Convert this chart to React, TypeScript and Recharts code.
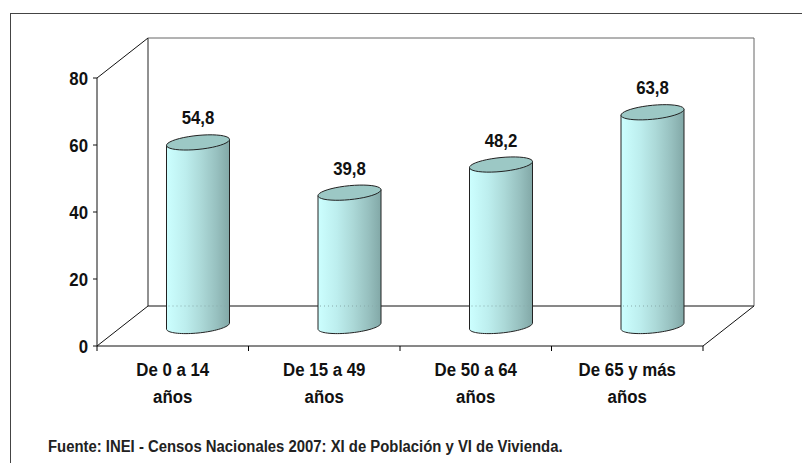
import React from "react";
import { BarChart, Bar, XAxis, YAxis, LabelList, Customized } from "recharts";

const line1 = ["De 0 a 14", "De 15 a 49", "De 50 a 64", "De 65 y más"];
const line2 = ["años", "años", "años", "años"];
const values = [54.8, 39.8, 48.2, 63.8];
const yTicks = [0, 20, 40, 60, 80];
const source = "Fuente: INEI - Censos Nacionales 2007: XI de Población y VI de Vivienda.";

const data = line1.map((l, i) => ({ name: l, sub: line2[i], value: values[i] }));

const W = 802;
const H = 463;
const M = { top: 78, right: 99, bottom: 117, left: 97 };
const PLOT_W = W - M.left - M.right;
const PLOT_H = H - M.top - M.bottom;
const AXIS_Y = M.top + PLOT_H;
const BAND = PLOT_W / data.length;
const DEPTH_X = 51;
const DEPTH_Y = -40;
const DX = DEPTH_X / 2;
const DY = DEPTH_Y / 2;
const FONT = "'Liberation Sans', Arial, sans-serif";

// arial narrow is not installed, so squeeze liberation sans a bit
const NText = ({ x, y, anchor = "start", size = 18.5, sx = 0.91, fill = "#111", children }: any) => (
  <text
    transform={`translate(${x},${y}) scale(${sx},1)`}
    x={0}
    y={0}
    textAnchor={anchor}
    fontFamily={FONT}
    fontWeight="bold"
    fontSize={size}
    fill={fill}
  >
    {children}
  </text>
);

// sheared ellipse, so the rim tilts a little like the original
const rimPoints = (cx: number, cy: number, rx: number, ry: number, k: number, from: number, to: number) => {
  const pts: string[] = [];
  const n = 40;
  for (let i = 0; i <= n; i++) {
    const t = from + ((to - from) * i) / n;
    const px = cx + rx * Math.cos(t);
    const py = cy + ry * Math.sin(t) - k * rx * Math.cos(t);
    pts.push(`${px.toFixed(2)},${py.toFixed(2)}`);
  }
  return pts;
};

const Cylinder = (props: any) => {
  const { x, y, width, height } = props;
  const rx = width / 2;
  const ry = 7;
  const k = 0.095;
  const cx = x + rx + DX;
  const top = y + DY;
  const bottom = y + height + DY;
  const s = k * rx;
  const body =
    `M${cx - rx},${top + s} L${cx - rx},${bottom + s} L` +
    rimPoints(cx, bottom, rx, ry, k, Math.PI, 0).join(" L") +
    ` L${cx + rx},${top - s} Z`;
  const topRim = "M" + rimPoints(cx, top, rx, ry, k, 0, Math.PI * 2).join(" L") + " Z";
  const backY = AXIS_Y + DEPTH_Y;
  return (
    <g>
      <path d={body} fill="url(#cylGrad)" stroke="#222" strokeWidth={1} />
      {/* the back floor edge shows faintly through the cylinder */}
      <line x1={cx - rx + 2} y1={backY} x2={cx + rx - 2} y2={backY} stroke="#8aa" strokeDasharray="1 3" />
      <path d={topRim} fill="#9cc8c5" stroke="#222" strokeWidth={1} />
    </g>
  );
};

const ValueLabel = (props: any) => {
  const { x, y, width, value } = props;
  return (
    <NText x={x + width / 2 + DX} y={y + DY - 18} anchor="middle">
      {String(value).replace(".", ",")}
    </NText>
  );
};

const CategoryTick = (props: any) => {
  const { x, payload, index } = props;
  const d = data[index] || data.find((r) => r.name === payload.value);
  const last = index === data.length - 1;
  return (
    <g>
      <line x1={x - BAND / 2} y1={AXIS_Y} x2={x - BAND / 2} y2={AXIS_Y + 5} stroke="#000" />
      {last && <line x1={x + BAND / 2} y1={AXIS_Y} x2={x + BAND / 2} y2={AXIS_Y + 5} stroke="#000" />}
      <NText x={x} y={AXIS_Y + 30} anchor="middle">{payload.value}</NText>
      <NText x={x} y={AXIS_Y + 57} anchor="middle">{d ? d.sub : ""}</NText>
    </g>
  );
};

const ValueTick = (props: any) => {
  const { y, payload } = props;
  return (
    <NText x={M.left - 9} y={y + 7} anchor="end">
      {payload.value}
    </NText>
  );
};

const Frame = () => {
  const l = M.left;
  const r = M.left + PLOT_W;
  const t = M.top;
  const b = AXIS_Y;
  return (
    <g>
      <defs>
        <linearGradient id="cylGrad" x1="0" y1="0" x2="1" y2="0">
          <stop offset="0%" stopColor="#ccffff" />
          <stop offset="30%" stopColor="#bdeeee" />
          <stop offset="55%" stopColor="#acd9d8" />
          <stop offset="80%" stopColor="#97c0bf" />
          <stop offset="100%" stopColor="#82a8a7" />
        </linearGradient>
      </defs>
      <path d={`M${l + DEPTH_X},${b + DEPTH_Y} L${l + DEPTH_X},${t + DEPTH_Y}`} stroke="#222" fill="none" />
      <path
        d={`M${l + DEPTH_X},${t + DEPTH_Y} L${r + DEPTH_X},${t + DEPTH_Y} L${r + DEPTH_X},${b + DEPTH_Y}`}
        stroke="#666"
        fill="none"
      />
      <path
        d={`M${l},${t} L${l + DEPTH_X},${t + DEPTH_Y} M${l},${b} L${l + DEPTH_X},${b + DEPTH_Y} L${r + DEPTH_X},${b + DEPTH_Y} L${r},${b}`}
        stroke="#111"
        fill="none"
      />
      <NText x={48} y={452} size={17} sx={0.875} fill="#222">
        {source}
      </NText>
    </g>
  );
};

export default function App() {
  return (
    <div style={{ position: "absolute", left: 0, top: 0, width: W, height: H, background: "#fff", overflow: "hidden" }}>
      <div
        style={{
          position: "absolute",
          left: 10,
          top: 13,
          width: W,
          height: H,
          borderTop: "1px solid #444",
          borderLeft: "1px solid #444",
        }}
      />
      <div style={{ position: "absolute", left: 0, top: 0 }}>
        <BarChart width={W} height={H} data={data} margin={{ top: M.top, right: M.right, bottom: 57, left: 37 }}>
          <Customized component={<Frame />} />
          <XAxis
            dataKey="name"
            height={60}
            interval={0}
            tickLine={false}
            axisLine={{ stroke: "#111" }}
            tick={<CategoryTick />}
          />
          <YAxis
            width={60}
            domain={[0, 80]}
            ticks={yTicks}
            interval={0}
            tickSize={4}
            tickMargin={5}
            axisLine={{ stroke: "#111" }}
            tickLine={{ stroke: "#111" }}
            tick={<ValueTick />}
          />
          <Bar dataKey="value" barSize={63} shape={<Cylinder />} isAnimationActive={false}>
            <LabelList dataKey="value" content={<ValueLabel />} />
          </Bar>
        </BarChart>
      </div>
    </div>
  );
}
